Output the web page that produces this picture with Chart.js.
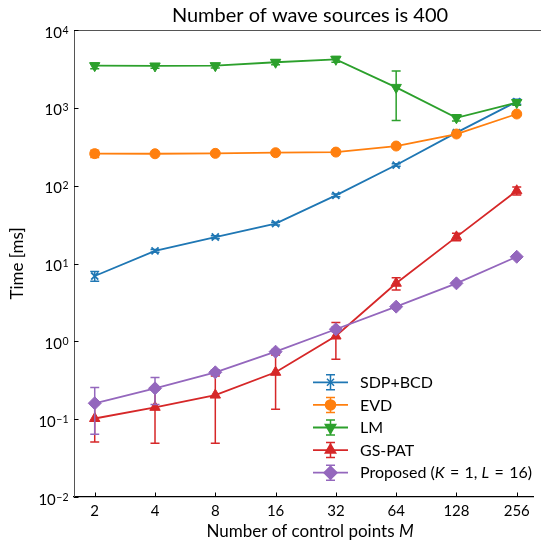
<!DOCTYPE html>
<html>
<head>
<meta charset="utf-8">
<script src="https://cdn.jsdelivr.net/npm/chart.js@4/dist/chart.umd.min.js"></script>
<style>
  html, body { margin: 0; padding: 0; background: #fff; }
  #wrap { width: 541px; height: 545px; }
</style>
</head>
<body>
<div id="wrap"><canvas id="c" width="541" height="545"></canvas></div>
<script>
// Number of control points M (x axis)
const controlPoints = [2, 4, 8, 16, 32, 64, 128, 256];

// Mean computation time [ms] and its spread for each method
const sdpBcd      = [6.9, 14.5, 21.9, 32.5, 75, 184, 480, 1200];
const sdpBcdErr   = [1.0, 0.6, 0.9, 1.3, 3, 7, 25, 90];
const evd         = [258, 257, 260, 265, 270, 323, 461, 833];
const evdErr      = [28, 6, 6, 6, 6, 10, 18, 30];
const lm          = [3480, 3450, 3480, 3850, 4200, 1830, 745, 1170];
const lmErr       = [300, 220, 220, 260, 350, 1145, 70, 90];
const gsPat       = [0.102, 0.142, 0.204, 0.40, 1.17, 5.58, 22.0, 86];
const gsPatErr    = [0.051, 0.093, 0.155, 0.266, 0.58, 1.0, 2.4, 10];
const proposed    = [0.16, 0.249, 0.40, 0.736, 1.43, 2.79, 5.56, 12.2];
const proposedErr = [0.096, 0.095, 0.03, 0.05, 0.1, 0.15, 0.3, 0.5];

// Tick labels
const xTickValues = [2, 4, 8, 16, 32, 64, 128, 256];
const yExponents  = [-2, -1, 0, 1, 2, 3, 4];

const FONT = 'Lato, "DejaVu Sans", sans-serif';

const seriesDefs = [
  { label: 'SDP+BCD',  values: sdpBcd,   errors: sdpBcdErr,   color: '#1f77b4', style: 'crossRot', radius: 5,   rotation: 0,   order: 5 },
  { label: 'EVD',      values: evd,      errors: evdErr,      color: '#ff7f0e', style: 'circle',   radius: 5,   rotation: 0,   order: 4 },
  { label: 'LM',       values: lm,       errors: lmErr,       color: '#2ca02c', style: 'triangle', radius: 6,   rotation: 180, order: 3 },
  { label: 'GS-PAT',   values: gsPat,    errors: gsPatErr,    color: '#d62728', style: 'triangle', radius: 6,   rotation: 0,   order: 2 },
  { label: [{ t: 'Proposed (' }, { t: 'K', i: true }, { t: '\u2004=\u20041, ' }, { t: 'L', i: true }, { t: '\u2004=\u200416)' }],
                       values: proposed, errors: proposedErr, color: '#9467bd', style: 'rectRot',  radius: 6.5, rotation: 0,   order: 1 }
];

const datasets = seriesDefs.map(s => ({
  label: typeof s.label === 'string' ? s.label : s.label.map(r => r.t).join(''),
  data: controlPoints.map((m, i) => ({ x: m, y: s.values[i] })),
  errors: s.errors,
  borderColor: s.color,
  backgroundColor: s.color,
  pointBackgroundColor: s.color,
  pointBorderColor: s.color,
  pointStyle: s.style,
  pointRadius: s.radius,
  pointRotation: s.rotation,
  pointBorderWidth: s.style === 'crossRot' ? 1.8 : 1,
  borderWidth: 1.8,
  tension: 0,
  order: s.order
}));

// Draw a line of text made of plain and italic runs
function drawRuns(ctx, runs, x, y, size, align) {
  const fontOf = r => (r.i ? 'italic ' : '') + size + 'px ' + FONT;
  let total = 0;
  runs.forEach(r => { ctx.font = fontOf(r); total += ctx.measureText(r.t).width; });
  let cx = align === 'center' ? x - total / 2 : x;
  ctx.textAlign = 'left';
  runs.forEach(r => {
    ctx.font = fontOf(r);
    ctx.fillText(r.t, cx, y);
    cx += ctx.measureText(r.t).width;
  });
}

// Vertical error bars with caps, drawn under each series' line and markers
const errorBars = {
  id: 'errorBars',
  beforeDatasetDraw(chart, args) {
    const ds = chart.data.datasets[args.index];
    const ys = chart.scales.y;
    const ctx = chart.ctx;
    ctx.save();
    ctx.strokeStyle = ds.borderColor;
    ctx.lineWidth = 1.5;
    args.meta.data.forEach((pt, i) => {
      const v = ds.data[i].y, e = ds.errors[i];
      const lo = Math.max(v - e, ys.min);
      const yl = ys.getPixelForValue(lo), yh = ys.getPixelForValue(v + e);
      ctx.beginPath();
      ctx.moveTo(pt.x, yl); ctx.lineTo(pt.x, yh);
      if (v - e > 0) { ctx.moveTo(pt.x - 4.5, yl); ctx.lineTo(pt.x + 4.5, yl); }
      ctx.moveTo(pt.x - 4.5, yh); ctx.lineTo(pt.x + 4.5, yh);
      ctx.stroke();
    });
    ctx.restore();
  }
};

// Frame, inward ticks, power-of-ten labels, titles and legend
const decorations = {
  id: 'decorations',
  afterDraw(chart) {
    const ctx = chart.ctx;
    const a = chart.chartArea;
    const xs = chart.scales.x, ys = chart.scales.y;
    ctx.save();

    // top spine
    ctx.strokeStyle = '#555';
    ctx.lineWidth = 1;
    ctx.beginPath();
    ctx.moveTo(a.left, a.top + 0.5); ctx.lineTo(chart.width, a.top + 0.5);
    ctx.stroke();

    // inward tick marks
    ctx.strokeStyle = '#000';
    ctx.lineWidth = 1;
    ctx.beginPath();
    xs.ticks.forEach(t => {
      const px = Math.round(xs.getPixelForValue(t.value)) + 0.5;
      ctx.moveTo(px, a.bottom); ctx.lineTo(px, a.bottom - 4.5);
    });
    ys.ticks.forEach(t => {
      const py = Math.round(ys.getPixelForValue(t.value)) + 0.5;
      ctx.moveTo(a.left, py); ctx.lineTo(a.left + 4.5, py);
    });
    ctx.stroke();

    // y tick labels: 10 with superscript exponent
    ctx.fillStyle = '#000';
    ctx.textBaseline = 'alphabetic';
    yExponents.forEach(p => {
      const py = ys.getPixelForValue(Math.pow(10, p));
      const exp = p < 0 ? '\u2212' + (-p) : String(p);
      ctx.font = '10.5px ' + FONT;
      const ew = ctx.measureText(exp).width;
      ctx.font = '15px ' + FONT;
      const bw = ctx.measureText('10').width;
      const right = a.left - 5.5;
      ctx.textAlign = 'left';
      ctx.fillText('10', right - ew - bw - 0.5, py + 7.5);
      ctx.font = '10.5px ' + FONT;
      ctx.fillText(exp, right - ew, py + 3.5);
    });

    // title
    ctx.textBaseline = 'alphabetic';
    drawRuns(ctx, [{ t: 'Number of wave sources is 400' }], 310, 21.5, 20, 'center');

    // x axis title
    drawRuns(ctx, [{ t: 'Number of control points ' }, { t: 'M', i: true }], 310, 537, 17, 'center');

    // y axis title
    ctx.save();
    ctx.translate(23, (a.top + a.bottom) / 2);
    ctx.rotate(-Math.PI / 2);
    drawRuns(ctx, [{ t: 'Time [ms]' }], 0, 0, 17, 'center');
    ctx.restore();

    // legend
    const lx0 = 313, lx1 = 348, mx = 330.5, tx = 360;
    seriesDefs.forEach((s, i) => {
      const ly = 382.3 + i * 22.6;
      ctx.strokeStyle = s.color;
      ctx.lineWidth = 1.8;
      ctx.beginPath(); ctx.moveTo(lx0, ly); ctx.lineTo(lx1, ly); ctx.stroke();
      ctx.lineWidth = 1.5;
      ctx.beginPath();
      ctx.moveTo(mx, ly - 7.5); ctx.lineTo(mx, ly + 7.5);
      ctx.moveTo(mx - 4.5, ly - 7.5); ctx.lineTo(mx + 4.5, ly - 7.5);
      ctx.moveTo(mx - 4.5, ly + 7.5); ctx.lineTo(mx + 4.5, ly + 7.5);
      ctx.stroke();
      ctx.fillStyle = s.color;
      Chart.helpers.drawPoint(ctx, {
        pointStyle: s.style, radius: s.radius, rotation: s.rotation,
        borderWidth: s.style === 'crossRot' ? 1.8 : 1
      }, mx, ly);
      ctx.fillStyle = '#000';
      ctx.textBaseline = 'middle';
      const runs = typeof s.label === 'string' ? [{ t: s.label }] : s.label;
      drawRuns(ctx, runs, tx, ly + 0.5, 16, 'left');
    });

    ctx.restore();
  }
};

new Chart(document.getElementById('c'), {
  type: 'line',
  data: { datasets },
  plugins: [errorBars, decorations],
  options: {
    responsive: false,
    animation: false,
    devicePixelRatio: 1,
    layout: { padding: { top: 30, right: 0, left: 0, bottom: 0 } },
    plugins: {
      legend: { display: false },
      title: { display: false },
      tooltip: { enabled: false }
    },
    scales: {
      x: {
        type: 'logarithmic',
        min: 1.576,
        max: 310.4,
        afterBuildTicks: s => { s.ticks = xTickValues.map(v => ({ value: v })); },
        afterFit: s => { s.height = 48; },
        grid: { display: false, drawTicks: false },
        border: { display: true, color: '#000', width: 1.3 },
        ticks: {
          callback: v => String(v),
          autoSkip: false, maxRotation: 0,
          color: '#000', padding: 5,
          font: { family: FONT, size: 15 }
        }
      },
      y: {
        type: 'logarithmic',
        min: 1e-2,
        max: 1e4,
        afterBuildTicks: s => { s.ticks = yExponents.map(p => ({ value: Math.pow(10, p) })); },
        afterFit: s => { s.width = 74; },
        grid: { display: false, drawTicks: false },
        border: { display: true, color: '#555', width: 1 },
        ticks: { callback: () => '', font: { family: FONT, size: 15 } }
      }
    }
  }
});
</script>
</body>
</html>
